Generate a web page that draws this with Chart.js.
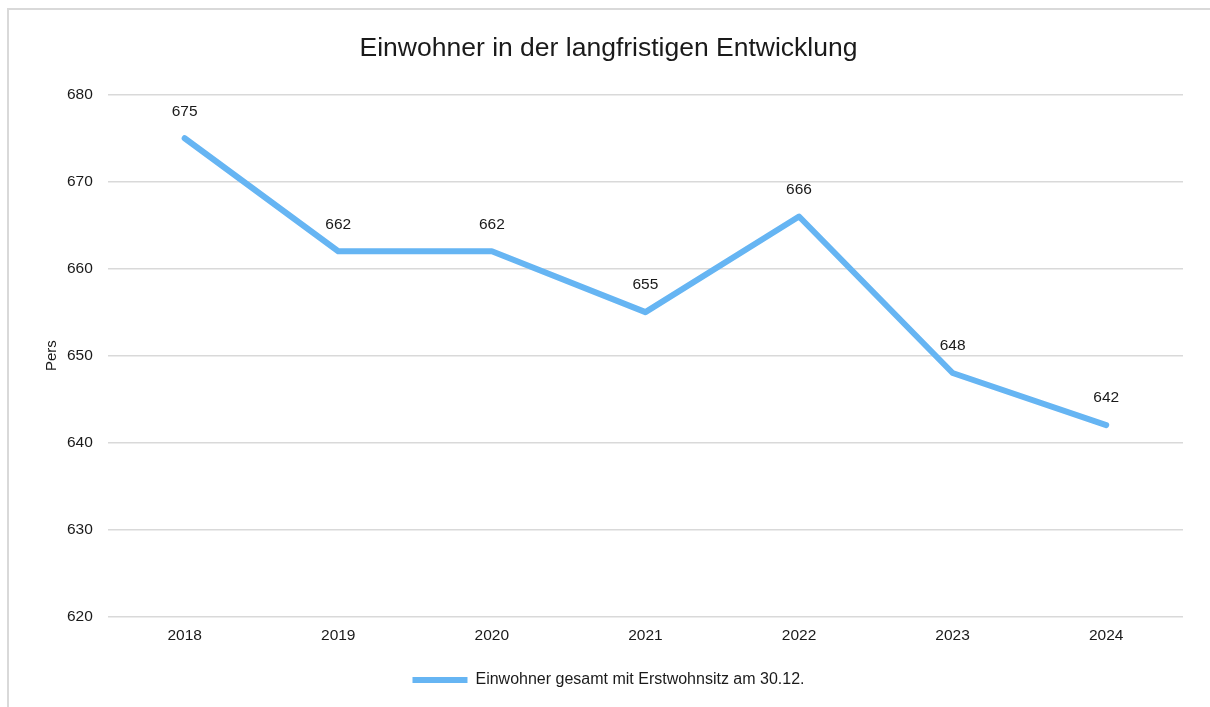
<!DOCTYPE html>
<html>
<head>
<meta charset="utf-8">
<script src="https://cdn.jsdelivr.net/npm/chart.js@4/dist/chart.umd.min.js"></script>
<style>
  body { margin: 0; background: #fff; }
  #wrap { position: relative; width: 1210px; height: 707px; }
  #frame { position: absolute; left: 7px; top: 8px; right: -5px; bottom: -5px; border-left: 2px solid #d9d9d9; border-top: 2px solid #d9d9d9; }
  #einwohner { position: absolute; left: 0; top: 0; }
</style>
</head>
<body>
<div id="wrap">
  <div id="frame"></div>
  <canvas id="einwohner" width="1210" height="707"></canvas>
</div>
<script>
var jahre = ["2018", "2019", "2020", "2021", "2022", "2023", "2024"];
var einwohner = [675, 662, 662, 655, 666, 648, 642];
var serienName = "Einwohner gesamt mit Erstwohnsitz am 30.12.";
var achseMin = 620;
var achseMax = 680;
var achseSchritt = 10;

Chart.defaults.font.family = "'Liberation Sans', Arial, sans-serif";
Chart.defaults.color = "#1a1a1a";

/* Werte ueber den Punkten */
var wertLabels = {
    id: 'wertLabels',
    afterDatasetsDraw: function(chart) {
        var ctx = chart.ctx;
        var meta = chart.getDatasetMeta(0);
        ctx.save();
        ctx.font = "15.5px 'Liberation Sans', Arial, sans-serif";
        ctx.fillStyle = "#1a1a1a";
        ctx.textAlign = "center";
        ctx.textBaseline = "middle";
        meta.data.forEach(function(pt, i) {
            ctx.fillText(chart.data.datasets[0].data[i], pt.x, pt.y - 27);
        });
        ctx.restore();
    }
};

var ctxEinwohner = document.getElementById("einwohner");

var dataEinwohner = {
    labels: jahre,
    datasets: [{
        label: serienName,
        data: einwohner,
        borderColor: '#66b5f3',
        backgroundColor: '#66b5f3',
        borderWidth: 6,
        borderCapStyle: 'round',
        borderJoinStyle: 'round',
        pointRadius: 0,
        tension: 0,
        fill: false
    }]
};

var optionsEinwohner = {
    responsive: false,
    animation: false,
    layout: { padding: { left: 34, right: 27, top: 33, bottom: 9 } },
    plugins: {
        title: {
            display: true,
            text: 'Einwohner in der langfristigen Entwicklung',
            font: { size: 26.5, weight: 'normal' },
            color: '#1a1a1a',
            padding: { top: 0, bottom: 30 }
        },
        legend: {
            position: 'bottom',
            labels: {
                usePointStyle: true,
                pointStyle: 'line',
                pointStyleWidth: 55,
                boxHeight: 6,
                font: { size: 16 },
                padding: 25
            }
        },
        tooltip: { enabled: false }
    },
    scales: {
        x: {
            offset: true,
            grid: { display: false },
            border: { display: false },
            ticks: { font: { size: 15.5 }, padding: 2 }
        },
        y: {
            min: achseMin,
            max: achseMax,
            ticks: { stepSize: achseSchritt, font: { size: 15.5 }, padding: 15 },
            grid: { color: '#d9d9d9', lineWidth: 1.5, drawTicks: false },
            border: { display: false },
            title: { display: true, text: 'Pers', font: { size: 15 }, padding: { top: 9, bottom: -9 } }
        }
    }
};

var chartEinwohner = new Chart(ctxEinwohner, {
    type: 'line',
    data: dataEinwohner,
    options: optionsEinwohner,
    plugins: [wertLabels]
});
</script>
</body>
</html>
